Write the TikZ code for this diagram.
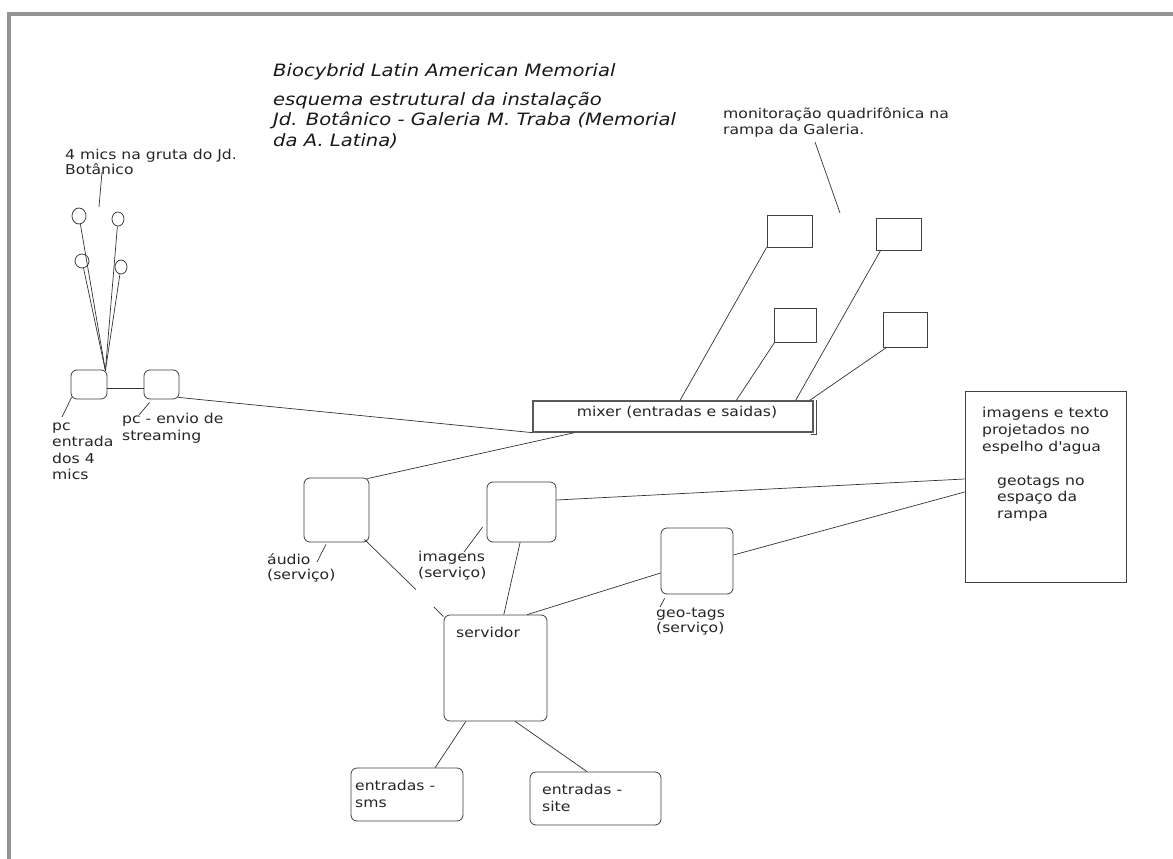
\documentclass[tikz,border=0pt]{standalone}
\usepackage{fontspec}
\setmainfont[FakeStretch=1.15]{DejaVu Sans}
\usetikzlibrary{calc,shapes.geometric}
\definecolor{framegray}{HTML}{939393}
\begin{document}
\begin{tikzpicture}[x=1pt,y=1pt,
  box/.style={draw=black!75, line width=0.8pt, rounded corners=6pt, inner sep=0pt},
  sqbox/.style={draw=black!75, line width=0.8pt, inner sep=0pt},
  mic/.style={draw=black!75, line width=0.8pt, ellipse, inner sep=0pt},
  lbl/.style={anchor=base west, align=left, inner sep=0pt, text=black!85, font=\fontsize{13.6}{16.2}\selectfont},
  ttl/.style={anchor=base west, align=left, inner sep=0pt, text=black!90, font=\fontsize{17}{20}\selectfont\itshape},
  conn/.style={draw=black!80, line width=0.7pt}]
\useasboundingbox (0,0) rectangle (1173,-859);
\fill[white] (0,0) rectangle (1173,-859);
% frame
\draw[framegray, line width=3.5pt] (9,-859) -- (9,-14) -- (1173,-14);

% titles (base anchor = baseline of last line)
\node[ttl] (title) at (273,-77) {Biocybrid Latin American Memorial};
\node[ttl] (subtitle) at (273,-146) {esquema estrutural da instalação\\Jd. Botânico - Galeria M. Traba (Memorial\\da A. Latina)};

% mics
\node[lbl, font=\fontsize{13.6}{14.5}\selectfont] (micslbl) at (65,-174) {4 mics na gruta do Jd.\\Botânico};
\node[mic, minimum width=14pt, minimum height=16pt] (c1) at (79,-216) {};
\node[mic, minimum width=12pt, minimum height=14pt] (c2) at (118,-219) {};
\node[mic, minimum width=14pt, minimum height=14pt] (c3) at (82,-261) {};
\node[mic, minimum width=12pt, minimum height=14pt] (c4) at (121,-267) {};
\coordinate (micptrA) at (102,-172);
\coordinate (micptr) at (99,-207);

% pcs
\node[box, minimum width=36pt, minimum height=29pt] (pc1) at (89,-384.5) {};
\node[box, minimum width=35pt, minimum height=29pt] (pc2) at (161.5,-384.5) {};
\coordinate (hub) at ($(pc1.north east)+(-2,-1)$);
\node[lbl, font=\fontsize{13.6}{16.5}\selectfont] (pc1lbl) at (52,-479.5) {pc\\entrada\\dos 4\\mics};
\node[lbl] (pc2lbl) at (122,-440) {pc - envio de\\streaming};
\coordinate (pc1ptr) at (62,-417);
\coordinate (pc2ptr) at (139,-415);

% mixer
\node[sqbox, draw=black!65, line width=1.3pt, minimum width=280pt, minimum height=31pt] (mixer) at (673,-416.5) {};
\node[inner sep=0pt, text=black!85, font=\fontsize{13.6}{16}\selectfont] (mixerlbl) at (677,-412) {mixer (entradas e saidas)};
\draw[black!70, line width=0.7pt] ($(mixer.north east)+(2.5,0)$) -- ($(mixer.south east)+(2.5,-1.5)$) -- ($(mixer.south east)+(-3,-1.5)$);

% monitors
\node[sqbox, minimum width=45pt, minimum height=32pt] (m1) at (789.5,-231) {};
\node[sqbox, minimum width=45pt, minimum height=32pt] (m2) at (898.5,-234) {};
\node[sqbox, minimum width=42pt, minimum height=34pt] (m3) at (795,-325) {};
\node[sqbox, minimum width=44pt, minimum height=35pt] (m4) at (905,-329.5) {};
\node[lbl, font=\fontsize{13.6}{16}\selectfont] (monlbl) at (723,-134) {monitoração quadrifônica na\\rampa da Galeria.};
\coordinate (monptrA) at (815,-142);
\coordinate (monptr) at (840,-213);

% right box
\node[sqbox, minimum width=161pt, minimum height=191pt] (proj) at (1045.5,-486.5) {};
\node[lbl, font=\fontsize{13.6}{17}\selectfont] (projlbl) at (982,-451) {imagens e texto\\projetados no\\espelho d\textquotesingle agua};
\node[lbl, font=\fontsize{13.6}{16.5}\selectfont] (geolbl2) at (997,-518) {geotags no\\espaço da\\rampa};

% services
\node[box, minimum width=65pt, minimum height=64pt] (audio) at (336.5,-510) {};
\node[box, minimum width=69pt, minimum height=60pt] (imagens) at (521.5,-512) {};
\node[box, minimum width=72pt, minimum height=66pt] (geo) at (697,-561) {};
\node[lbl, font=\fontsize{13.6}{15.5}\selectfont] (audiolbl) at (267,-579.5) {áudio\\(serviço)};
\node[lbl, font=\fontsize{13.6}{16.5}\selectfont] (imglbl) at (418,-577.5) {imagens\\(serviço)};
\node[lbl, font=\fontsize{13.6}{15.5}\selectfont] (geolbl) at (656,-632.5) {geo-tags\\(serviço)};
\coordinate (audioptr) at (317,-562);
\coordinate (imgptr) at (464,-552);
\coordinate (geoptr) at (660,-607);

% server and inputs
\node[box, minimum width=103pt, minimum height=106pt] (servidor) at (495.5,-668) {};
\node[lbl] (servlbl) at (456,-637) {servidor};
\node[box, minimum width=112pt, minimum height=53pt] (sms) at (407,-794.5) {};
\node[box, minimum width=131pt, minimum height=53pt] (site) at (595.5,-798.5) {};
\node[lbl] (smslbl) at (355,-807) {entradas -\\sms};
\node[lbl] (sitelbl) at (542,-811) {entradas -\\site};

% connectors: mics
\draw[conn] (c1) -- (hub);
\draw[conn] (c2) -- (hub);
\draw[conn] (c3) -- (hub);
\draw[conn] (c4) -- (hub);
\draw[conn] (micptrA) -- (micptr);
\draw[conn] ($(pc1.east)+(0,-3.5)$) -- ($(pc2.west)+(0,-3.5)$);
\draw[conn] ($(pc2.south east)+(-1,2)$) -- (mixer.south west);
\draw[conn] ($(pc1.south west)+(1,2)$) -- (pc1ptr);
\draw[conn] ($(pc2.south west)+(6,-3)$) -- (pc2ptr);

% monitors to mixer
\draw[conn] (m1.south west) -- ($(mixer.north west)!0.525!(mixer.north east)$);
\draw[conn] ($(m3.south west)+(1,0)$) -- ($(mixer.north west)!0.725!(mixer.north east)$);
\draw[conn] ($(m2.south west)+(5,0)$) -- ($(mixer.north west)!0.936!(mixer.north east)$);
\draw[conn] ($(m4.south west)+(4,0)$) -- ($(mixer.north west)!0.986!(mixer.north east)$);
\draw[conn] (monptrA) -- (monptr);

% services
\draw[conn] ($(audio.north east)+(-2,-1)$) -- ($(mixer.south west)!0.15!(mixer.south east)$);
\coordinate (as) at ($(audio.south east)+(-5,3)$);
\coordinate (ae) at ($(servidor.north west)+(0,-2)$);
\draw[conn] (as) -- ($(as)!0.65!(ae)$);
\draw[conn] ($(as)!0.875!(ae)$) -- (ae);
\draw[conn] ($(audio.south west)!0.34!(audio.south east)+(0,-2)$) -- (audioptr);
\draw[conn] ($(imagens.east)+(0,12)$) -- ($(proj.west)+(0,7.5)$);
\draw[conn] ($(imagens.west)+(-4,-15)$) -- (imgptr);
\draw[conn] ($(imagens.south west)!0.48!(imagens.south east)$) -- ($(servidor.north west)!0.58!(servidor.north east)$);
\draw[conn] ($(geo.west)+(0,-12)$) -- ($(servidor.north west)!0.806!(servidor.north east)$);
\draw[conn] ($(geo.east)+(0,6)$) -- ($(proj.west)+(0,-5.5)$);
\draw[conn] ($(geo.south west)+(4,-4)$) -- (geoptr);
\draw[conn] ($(servidor.south west)!0.214!(servidor.south east)$) -- ($(sms.north west)!0.75!(sms.north east)$);
\draw[conn] ($(servidor.south west)!0.69!(servidor.south east)$) -- ($(site.north west)!0.435!(site.north east)$);
\end{tikzpicture}
\end{document}
